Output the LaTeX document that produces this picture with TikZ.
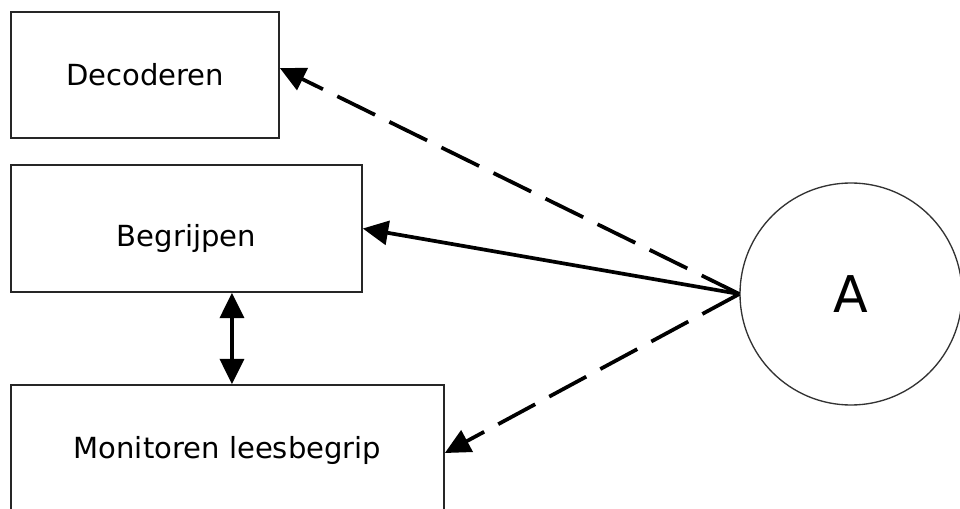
\documentclass[tikz,border=0pt]{standalone}
\usepackage{fontspec}
\setmainfont{DejaVu Sans}
\usetikzlibrary{arrows.meta}
\begin{document}
\begin{tikzpicture}[x=0.75pt,y=-0.75pt,
  boxnode/.style={draw=black!85,line width=1.2pt,fill=white,inner sep=0pt,
    font=\fontsize{21.8pt}{26pt}\selectfont,text depth=0pt,text height=15.5pt},
  conn/.style={line width=2.8pt,-{Triangle[length=19pt,width=18pt]}},
  dconn/.style={conn,dash pattern=on 31.5pt off 12pt},
  biconn/.style={line width=2.8pt,{Triangle[length=19pt,width=18pt]}-{Triangle[length=19pt,width=18pt]}}]
\fill[white] (0,0) rectangle (960,509);
\useasboundingbox (0,0) rectangle (960,509);
\begin{scope}
\clip (0,0) rectangle (960,509);
\node[boxnode,minimum width=201pt,minimum height=94.5pt] (dec) at (145,75) {Decoderen};
\node[boxnode,minimum width=263.25pt,minimum height=95.25pt,text height=27.5pt] (beg) at (186.5,228.5) {Begrijpen};
\node[boxnode,minimum width=324.75pt,minimum height=95.25pt] (mon) at (227.5,448.5) {Monitoren leesbegrip};
\node[circle,draw=black!80,line width=1pt,minimum size=166.5pt,inner sep=0pt,
  font=\fontsize{38pt}{44pt}\selectfont] (A) at (851,294) {A};
\draw[dconn] (A.west) -- ([yshift=5.25pt]dec.east);
\draw[conn] (A.west) -- (beg.east);
\draw[dconn] (A.west) -- ([yshift=-3.4pt]mon.east);
\coordinate (b1) at ([xshift=34.1pt]beg.south);
\draw[biconn] (b1) -- (b1 |- mon.north);
\end{scope}
\end{tikzpicture}
\end{document}
